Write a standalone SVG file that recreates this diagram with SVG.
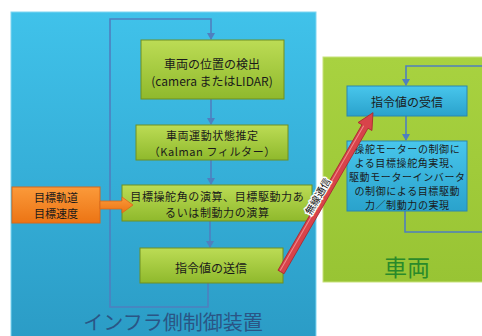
<svg xmlns="http://www.w3.org/2000/svg" width="482" height="336" viewBox="0 0 482 336">
<defs>
<linearGradient id="gBlue" x1="0" y1="0" x2="0" y2="1"><stop offset="0" stop-color="#40c2ea"/><stop offset="1" stop-color="#2b9cc6"/></linearGradient>
<linearGradient id="gGreenBox" x1="0" y1="0" x2="0" y2="1"><stop offset="0" stop-color="#bcdc55"/><stop offset="1" stop-color="#8fb92c"/></linearGradient>
<linearGradient id="gBlueBox" x1="0" y1="0" x2="0" y2="1"><stop offset="0" stop-color="#48c6ec"/><stop offset="1" stop-color="#2aa2cc"/></linearGradient>
<linearGradient id="gOrange" x1="0" y1="0" x2="0" y2="1"><stop offset="0" stop-color="#fb9a3a"/><stop offset="1" stop-color="#ec7414"/></linearGradient>
<linearGradient id="gVeh" x1="0" y1="0" x2="0" y2="1"><stop offset="0" stop-color="#a8d240"/><stop offset="1" stop-color="#98c434"/></linearGradient>
<marker id="ah" markerWidth="8" markerHeight="8" refX="6" refY="4" orient="auto" markerUnits="userSpaceOnUse"><path d="M0,0 L7,4 L0,8 Z" fill="#4f7fbf"/></marker>
</defs>
<style>
text{font-family:"Noto Sans CJK JP","Liberation Sans",sans-serif;text-anchor:middle;dominant-baseline:central}
.t{font-size:12px;fill:#1a1a1a}
.m{font-size:11px;fill:#1a1a1a;letter-spacing:0.6px}
.o{font-size:11px;fill:#1a1a1a}
.s{font-size:10px;fill:#1a1a1a;letter-spacing:0.6px}
.gb{fill:url(#gGreenBox);stroke:#6f8f22;stroke-width:1}
.bb{fill:url(#gBlueBox);stroke:#2a86b0;stroke-width:1}
.ln{fill:none;stroke:#4f7fbf;stroke-width:1.6}
</style>
<rect x="0" y="0" width="482" height="336" fill="#ffffff"/>
<g id="infra">
<rect x="11" y="12" width="305" height="326" fill="url(#gBlue)" stroke="#7fd6f2" stroke-width="1"/>
<text x="173" y="321" style="font-size:20px;fill:#2a5585">インフラ側制御装置</text>
</g>
<g id="vehicle">
<rect x="323" y="57" width="165" height="225" fill="url(#gVeh)" stroke="#c8e27a" stroke-width="1"/>
<text x="407" y="266" style="font-size:23px;fill:#2a8a2a">車両</text>
</g>
<g id="connectors">
<path class="ln" d="M211,99 L211,124" marker-end="url(#ah)"/>
<path class="ln" d="M211,160 L211,184" marker-end="url(#ah)"/>
<path class="ln" d="M210,221 L210,247" marker-end="url(#ah)"/>
<path class="ln" d="M208,283 L208,307 L110,307 L110,19 L211,19 L211,39" marker-end="url(#ah)"/>
<path class="ln" d="M482,66 L406,66 L406,85" marker-end="url(#ah)"/>
<path class="ln" d="M406,116 L406,140" marker-end="url(#ah)"/>
<path class="ln" d="M405,211 L405,232 L482,232"/>
</g>
<g id="box1">
<rect class="gb" x="141" y="40" width="143" height="59"/>
<text class="t" x="212" y="63">車両の位置の検出</text>
<text class="t" x="212" y="80">(camera またはLIDAR)</text>
</g>
<g id="box2">
<rect class="gb" x="136" y="125" width="152" height="35"/>
<text class="m" x="212.3" y="134.5">車両運動状態推定</text>
<text class="m" x="212.3" y="150.5">（Kalman フィルター）</text>
</g>
<g id="box3">
<rect class="gb" x="122" y="185" width="190" height="36"/>
<text class="m" x="217.3" y="196">目標操舵角の演算、目標駆動力あ</text>
<text class="m" x="217.3" y="212">るいは制動力の演算</text>
</g>
<g id="box4">
<rect class="gb" x="140" y="248" width="143" height="35"/>
<text class="t" x="211" y="267">指令値の送信</text>
</g>
<g id="target">
<rect x="12" y="187" width="88" height="36" fill="url(#gOrange)" stroke="#d8681a" stroke-width="1"/>
<text class="o" x="56" y="197">目標軌道</text>
<text class="o" x="56" y="212.5">目標速度</text>
</g>
<g id="recv">
<rect class="bb" x="347" y="86" width="120" height="30"/>
<text class="t" x="407" y="101">指令値の受信</text>
</g>
<g id="control">
<rect class="bb" x="347" y="141" width="120" height="70"/>
<text class="s" x="407.3" y="148.5">操舵モーターの制御に</text>
<text class="s" x="407.3" y="162.5">よる目標操舵角実現、</text>
<text class="s" x="407.3" y="176.5">駆動モーターインバータ</text>
<text class="s" x="407.3" y="190.5">の制御による目標駆動</text>
<text class="s" x="407.3" y="204.5">力／制動力の実現</text>
</g>
<g id="flow-arrows">
<path d="M100,201 L122,201 L122,197 L133,205 L122,213 L122,209 L100,209 Z" fill="url(#gOrange)" stroke="#d8681a" stroke-width="0.8"/>
<g transform="translate(281,272) rotate(-60)">
<path d="M0,-3.5 L168,-3.5 L168,-8 L184,0 L168,8 L168,3.5 L0,3.5 Z" fill="#d8434a" stroke="#a82a30" stroke-width="0.8"/>
<line x1="1" y1="-1.5" x2="168" y2="-1.5" stroke="#f08a8e" stroke-width="1"/>
</g>
<text transform="translate(317,196) rotate(-60)" style="font-size:10px;fill:#111;stroke:#ffffff;stroke-width:2.5;paint-order:stroke">無線通信</text>
</g>
</svg>
